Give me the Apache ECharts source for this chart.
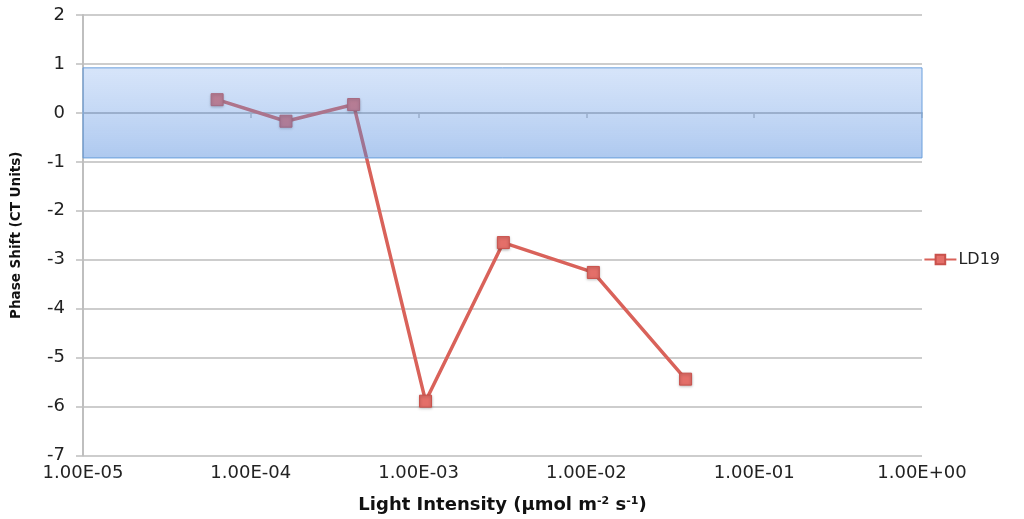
<!DOCTYPE html>
<html>
<head>
<meta charset="utf-8">
<script src="https://cdn.jsdelivr.net/npm/echarts@6/dist/echarts.min.js"></script>
<style>html,body{margin:0;padding:0;background:#fff}#c{width:1024px;height:519px}</style>
</head>
<body>
<div id="c"></div>
<script>
const seriesName = 'LD19';
const lightIntensity = [6.3e-5, 1.62e-4, 4.1e-4, 1.1e-3, 3.2e-3, 1.1e-2, 3.9e-2];
const phaseShift = [0.27, -0.17, 0.17, -5.89, -2.65, -3.26, -5.44];
const bandRange = [0.92, -0.92];
const xRange = [1e-5, 1];
const xTickLabels = {'-5':'1.00E-05','-4':'1.00E-04','-3':'1.00E-03','-2':'1.00E-02','-1':'1.00E-01','0':'1.00E+00'};
const yTicks = [-7, -6, -5, -4, -3, -2, -1, 0, 1, 2];

const chart = echarts.init(document.getElementById('c'));
const font = 'DejaVu Sans, Verdana, sans-serif';
chart.setOption({
  animation: false,
  grid: {left: 83, right: 102, top: 15, bottom: 60},
  legend: {
    right: 19, top: 'middle', orient: 'vertical',
    itemWidth: 32, itemHeight: 12, itemGap: 4,
    textStyle: {fontFamily: font, fontSize: 16, color: '#222', padding: [0, 0, 0, -3]},
    data: [seriesName]
  },
  xAxis: {
    type: 'log', logBase: 10, min: xRange[0], max: xRange[1],
    name: 'Light Intensity (µmol m{sup|-2} s{sup|-1})',
    nameLocation: 'middle', nameGap: 40,
    nameTextStyle: {fontFamily: font, fontSize: 18, fontWeight: 'bold', color: '#111',
      rich: {sup: {fontFamily: font, fontSize: 11, fontWeight: 'bold', color: '#111', verticalAlign: 'top', padding: [0, 0, 8, 0]}}},
    axisLine: {lineStyle: {color: '#bfbfbf', width: 2}},
    axisTick: {show: true, length: 5, lineStyle: {color: '#bfbfbf', width: 1.5}},
    splitLine: {show: false},
    minorTick: {show: false},
    axisLabel: {
      fontFamily: font, fontSize: 18, color: '#222', margin: 9,
      formatter: v => xTickLabels[String(Math.round(Math.log10(v)))] || ''
    }
  },
  yAxis: {
    type: 'value', min: yTicks[0], max: yTicks[yTicks.length - 1], interval: 1,
    name: 'Phase Shift (CT Units)',
    nameLocation: 'middle', nameGap: 60,
    nameTextStyle: {fontFamily: font, fontSize: 13.5, fontWeight: 'bold', color: '#111'},
    axisLine: {show: true, lineStyle: {color: '#bfbfbf', width: 2}},
    axisTick: {show: true, length: 7, lineStyle: {color: '#bfbfbf', width: 1.5}},
    splitLine: {show: true, lineStyle: {color: '#bdbdbd', width: 1.5}},
    axisLabel: {fontFamily: font, fontSize: 18, color: '#222', margin: 18}
  },
  series: [{
    name: seriesName,
    type: 'line',
    data: lightIntensity.map((x, i) => [x, phaseShift[i]]),
    symbol: 'rect', symbolSize: 12,
    lineStyle: {color: '#d9625a', width: 3.5},
    itemStyle: {color: '#e46f69', borderColor: '#c9524c', borderWidth: 1,
      shadowColor: 'rgba(0,0,0,0.3)', shadowBlur: 3, shadowOffsetY: 1},
    z: 2,
    markArea: {
      silent: true, z: 5,
      itemStyle: {
        color: new echarts.graphic.LinearGradient(0, 0, 0, 1, [
          {offset: 0, color: 'rgba(110,160,235,0.28)'},
          {offset: 1, color: 'rgba(75,135,220,0.45)'}
        ]),
        borderColor: '#6b9fdc', borderWidth: 1
      },
      data: [[{xAxis: xRange[0], yAxis: bandRange[0]}, {xAxis: xRange[1], yAxis: bandRange[1]}]]
    }
  }]
});
</script>
</body>
</html>
